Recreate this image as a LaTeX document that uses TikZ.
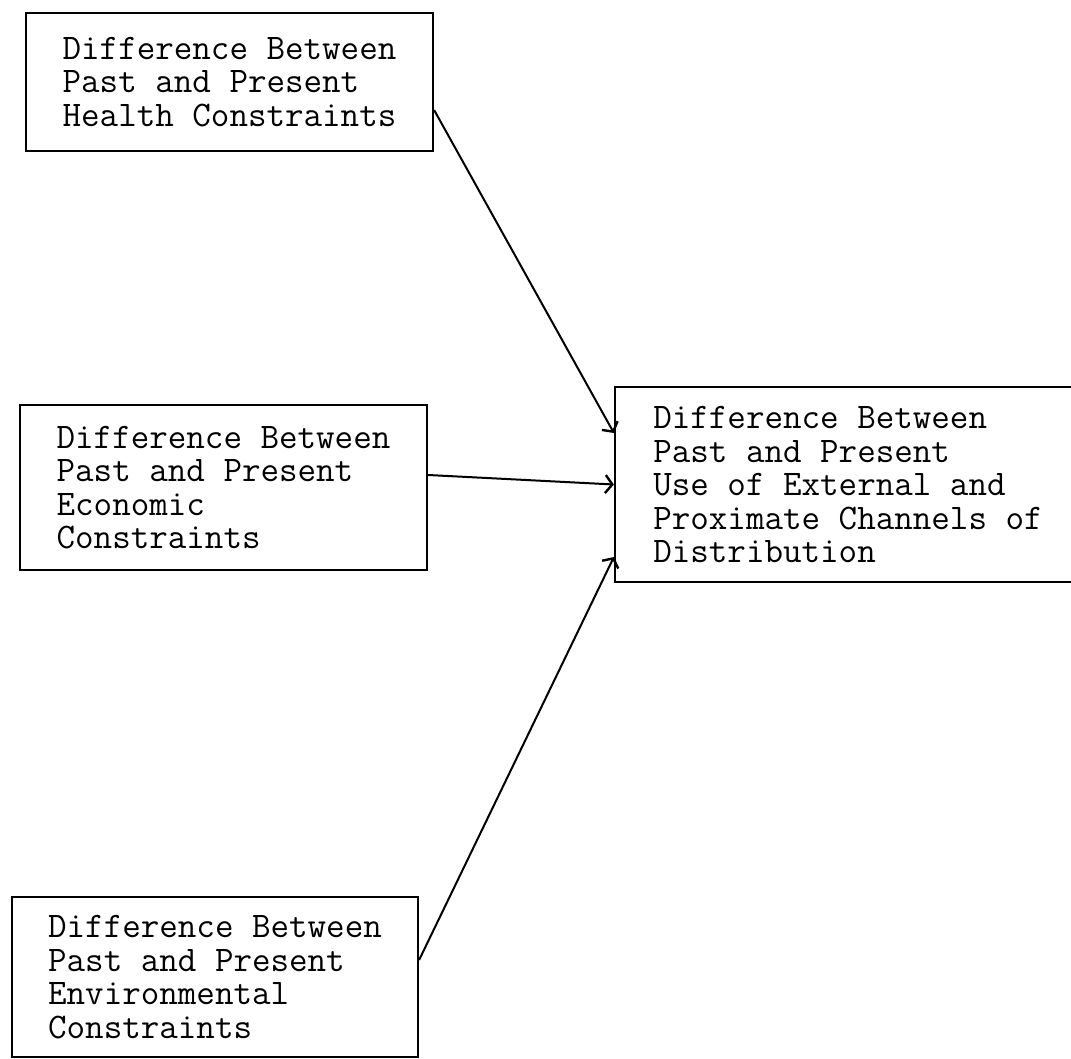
\documentclass[tikz,border=0pt]{standalone}
\usepackage{fontspec}
\usetikzlibrary{arrows.meta}
\tikzset{
  box/.style={draw, line width=2.2pt, rectangle, align=left, inner sep=0pt,
    font=\ttfamily\fontsize{36}{33.5}\selectfont},
  link/.style={line width=2pt, -{Straight Barb[length=7pt,width=18pt,line width=2.4pt]}}
}
\begin{document}
\begin{tikzpicture}[x=1pt,y=-1pt]
\useasboundingbox (0,0) rectangle (1071,1059);
\node[box, minimum width=407pt, minimum height=138pt] (h) at (229.5,82)
  {Difference Between\\Past and Present\\Health Constraints};
\node[box, minimum width=407pt, minimum height=165pt] (e) at (223.5,487.5)
  {Difference Between\\Past and Present\\Economic\\Constraints};
\node[box, minimum width=406pt, minimum height=160pt] (v) at (215,977)
  {Difference Between\\Past and Present\\Environmental\\Constraints};
\node[box, minimum width=466pt, minimum height=195pt] (t) at (848,484.5)
  {Difference Between\\Past and Present\\Use of External and\\Proximate Channels of\\Distribution};
\draw[link] ([yshift=-28pt]h.east) -- ([yshift=51.5pt]t.west);
\draw[link] ([yshift=12.5pt]e.east) -- ([yshift=0pt]t.west);
\draw[link] ([yshift=17pt]v.east) -- ([yshift=-72.5pt]t.west);
\end{tikzpicture}
\end{document}
